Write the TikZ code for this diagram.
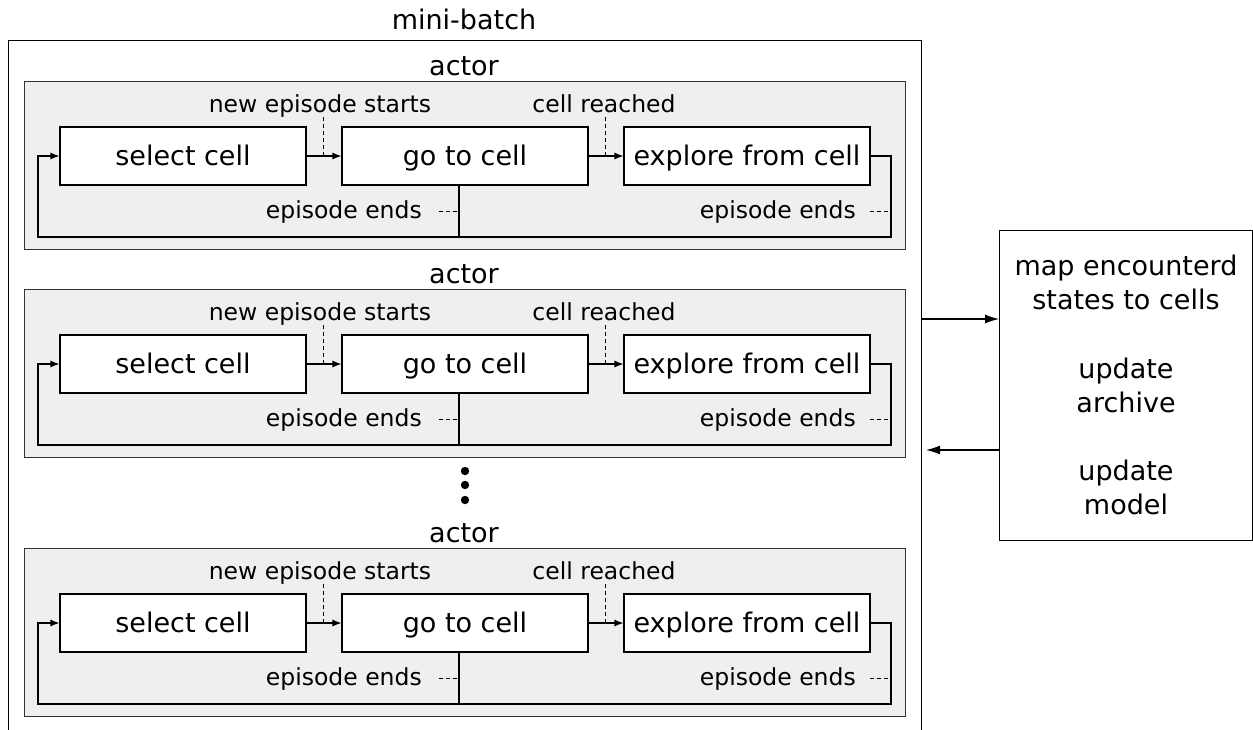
\documentclass[tikz,border=0pt]{standalone}
\usepackage{fontspec}
\setmainfont{DejaVu Sans}
\usetikzlibrary{arrows.meta}
\definecolor{actfill}{HTML}{EFEFEF}
\definecolor{actdraw}{HTML}{333333}
\begin{document}
\begin{tikzpicture}[x=1pt,y=-1pt,
  bigtxt/.style={font=\fontsize{27}{34}\selectfont},
  smalltxt/.style={font=\fontsize{23.5}{28}\selectfont,anchor=base,inner sep=0pt},
  stepbox/.style={draw=black,fill=white,line width=1.1pt,minimum width=246pt,minimum height=58pt,inner sep=0pt,text height=19.5pt,text depth=0pt,font=\fontsize{27}{34}\selectfont},
  actorbox/.style={draw=actdraw,fill=actfill,line width=1.1pt},
  flow/.style={line width=1.1pt,-{Latex[length=9pt,width=7pt]}},
  loopline/.style={line width=1.1pt},
  note/.style={line width=1pt,dash pattern=on 4pt off 3pt},
  bigarrow/.style={line width=1.3pt,-{Latex[length=14pt,width=9pt]}}
]
\useasboundingbox (0,0) rectangle (1253,729);
\begin{scope}
\clip (0,0) rectangle (1253,729);
% outer mini-batch box
\node[draw=black,line width=1.1pt,minimum width=913pt,minimum height=720pt,inner sep=0pt,anchor=north west] (mb) at (8,40) {};
\node[bigtxt,anchor=base,inner sep=0pt] (mbl) at (464,29) {mini-batch};

\foreach \i/\o in {1/0,2/208,3/467}{
  \begin{scope}[yshift=-\o pt]
  \node[actorbox,minimum width=881pt,minimum height=168pt,inner sep=0pt,anchor=north west] (act\i) at (24,81) {};
  \node[bigtxt,anchor=base,inner sep=0pt] (actl\i) at (464,75) {actor};
  \node[stepbox] (sel\i) at (183,156) {select cell};
  \node[stepbox] (go\i) at (465,156) {go to cell};
  \node[stepbox] (exp\i) at (747,156) {explore from cell};
  \node[smalltxt] (nes\i) at (320,112) {new episode starts};
  \node[smalltxt] (cr\i) at (604,112) {cell reached};
  \node[smalltxt,anchor=base east] (ee\i) at (422,218) {episode ends};
  \node[smalltxt,anchor=base east] (eer\i) at (856,218) {episode ends};
  \coordinate (lb\i) at (459,237);
  \coordinate (ll\i) at (38,237);
  \coordinate (rr\i) at (891,237);
  \draw[flow] (sel\i.east) -- (go\i.west);
  \draw[flow] (go\i.east) -- (exp\i.west);
  \draw[loopline] (go\i.south -| lb\i) -- (lb\i);
  \draw[flow] (exp\i.east) -| (rr\i) -- (ll\i) |- (sel\i.west);
  \draw[note] (323,117) -- (323,156);
  \draw[note] (605,117) -- (605,156);
  \draw[note] (439,211) -- (459,211);
  \draw[note] (870,211) -- (891,211);
  \end{scope}
}
\end{scope}
% dots
\foreach \y in {471,485,500}{
  \fill (465,\y) circle (4.2pt);
}
% right box
\node[draw=black,line width=1.1pt,minimum width=253pt,minimum height=310pt,inner sep=0pt,anchor=north west] (upd) at (999,230) {};
\node[bigtxt,align=center,anchor=base,inner sep=0pt] (t1) at (1126,309) {map encounterd\\states to cells};
\node[bigtxt,align=center,anchor=base,inner sep=0pt] (t2) at (1126,412) {update\\archive};
\node[bigtxt,align=center,anchor=base,inner sep=0pt] (t3) at (1126,514) {update\\model};
\coordinate (a1) at (921,319);
\coordinate (a2) at (926,450);
\draw[bigarrow] (a1) -- (a1 -| upd.west);
\draw[bigarrow] (a2 -| upd.west) -- (a2);
\end{tikzpicture}
\end{document}
